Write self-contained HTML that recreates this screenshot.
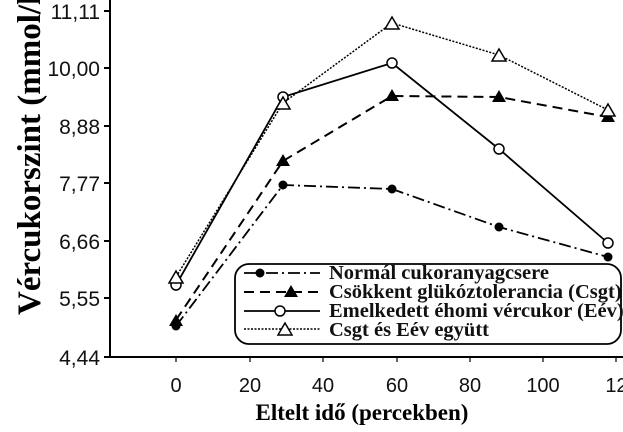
<!DOCTYPE html><html><head><style>body{margin:0;background:#fff}svg{display:block}</style></head><body>
<svg width="623" height="432" viewBox="0 0 623 432" xmlns="http://www.w3.org/2000/svg">
<rect width="623" height="432" fill="#fff"/>
<g stroke="#000" stroke-width="2" fill="none">
<path d="M110 0V357H623"/>
<path d="M104 11H110M104 68H110M104 126H110M104 183H110M104 241H110M104 298H110M104 357H110" />
</g>
<g stroke="#000" stroke-width="1.2"><path d="M176 357v5M250 357v5M323 357v5M397 357v5M470 357v5M543 357v5M616 357v5"/></g>
<g font-family="Liberation Sans, sans-serif" font-size="21" text-anchor="end" fill="#111">
<text x="100" y="19">11,11</text><text x="100" y="76">10,00</text><text x="100" y="134">8,88</text><text x="100" y="191">7,77</text><text x="100" y="249">6,66</text><text x="100" y="306">5,55</text><text x="100" y="365">4,44</text>
</g>
<g font-family="Liberation Sans, sans-serif" font-size="20" text-anchor="middle" fill="#111">
<text x="176" y="392">0</text><text x="250" y="392">20</text><text x="323" y="392">40</text><text x="397" y="392">60</text><text x="470" y="392">80</text><text x="543" y="392">100</text><text x="622" y="392">120</text>
</g>
<text x="362" y="420" text-anchor="middle" font-family="Liberation Serif, serif" font-weight="bold" font-size="23">Eltelt idő (percekben)</text>
<text transform="translate(40,315) rotate(-90)" font-family="Liberation Serif, serif" font-weight="bold" font-size="33">Vércukorszint (mmol/l)</text>
<g fill="none" stroke="#000">
<polyline points="176,277 283,103 392,23 499,55 608,110" stroke-width="1.5" stroke-dasharray="2,1.5"/>
<polyline points="176,285 283,97 392,63 499,149 608,243" stroke-width="1.8"/>
<polyline points="176,320 283,161 392,96 499,97 608,117" stroke-width="2" stroke-dasharray="10,6"/>
<polyline points="176,326 283,185 392,189 499,227 608,257" stroke-width="1.8" stroke-dasharray="12,4,2,4"/>
</g>
<g fill="#000">
<circle cx="176" cy="326" r="4.5"/><circle cx="283" cy="185" r="4.5"/><circle cx="392" cy="189" r="4.5"/><circle cx="499" cy="227" r="4.5"/><circle cx="608" cy="257" r="4.5"/>
<path d="M176 314l-7 12h14zM283 154l-7 12h14zM392 89l-7 12h14zM499 90l-7 12h14zM608 110l-7 12h14z"/>
</g>
<g fill="#fff" stroke="#000" stroke-width="1.5">
<circle cx="176" cy="285" r="5"/><circle cx="283" cy="97" r="5"/><circle cx="392" cy="63" r="5"/><circle cx="499" cy="149" r="5"/><circle cx="608" cy="243" r="5"/>
<path d="M176 271l-7 12h14zM283 97l-7 12h14zM392 17l-7 12h14zM499 49l-7 12h14zM608 104l-7 12h14z"/>
</g>
<rect x="235" y="264" width="386" height="80" rx="14" fill="#fff" stroke="#000" stroke-width="1.8"/>
<g stroke="#000" fill="none">
<path d="M244 273H320" stroke-width="1.8" stroke-dasharray="12,4,2,4"/>
<path d="M244 292H320" stroke-width="2" stroke-dasharray="10,6"/>
<path d="M244 311H320" stroke-width="1.8"/>
<path d="M244 329H320" stroke-width="1.5" stroke-dasharray="2,1.5"/>
</g>
<circle cx="260" cy="273" r="4.5"/>
<path d="M291 285l-7 12h14z"/>
<circle cx="280" cy="311" r="5" fill="#fff" stroke="#000" stroke-width="1.5"/>
<path d="M285 323l-7 12h14z" fill="#fff" stroke="#000" stroke-width="1.5"/>
<g font-family="Liberation Serif, serif" font-weight="bold" font-size="20.5" fill="#111">
<text x="329" y="279">Normál  cukoranyagcsere</text>
<text x="329" y="298">Csökkent glükóztolerancia  (Csgt)</text>
<text x="329" y="317">Emelkedett éhomi  vércukor (Eév)</text>
<text x="329" y="336">Csgt és Eév együtt</text>
</g>
</svg>
</body></html>
